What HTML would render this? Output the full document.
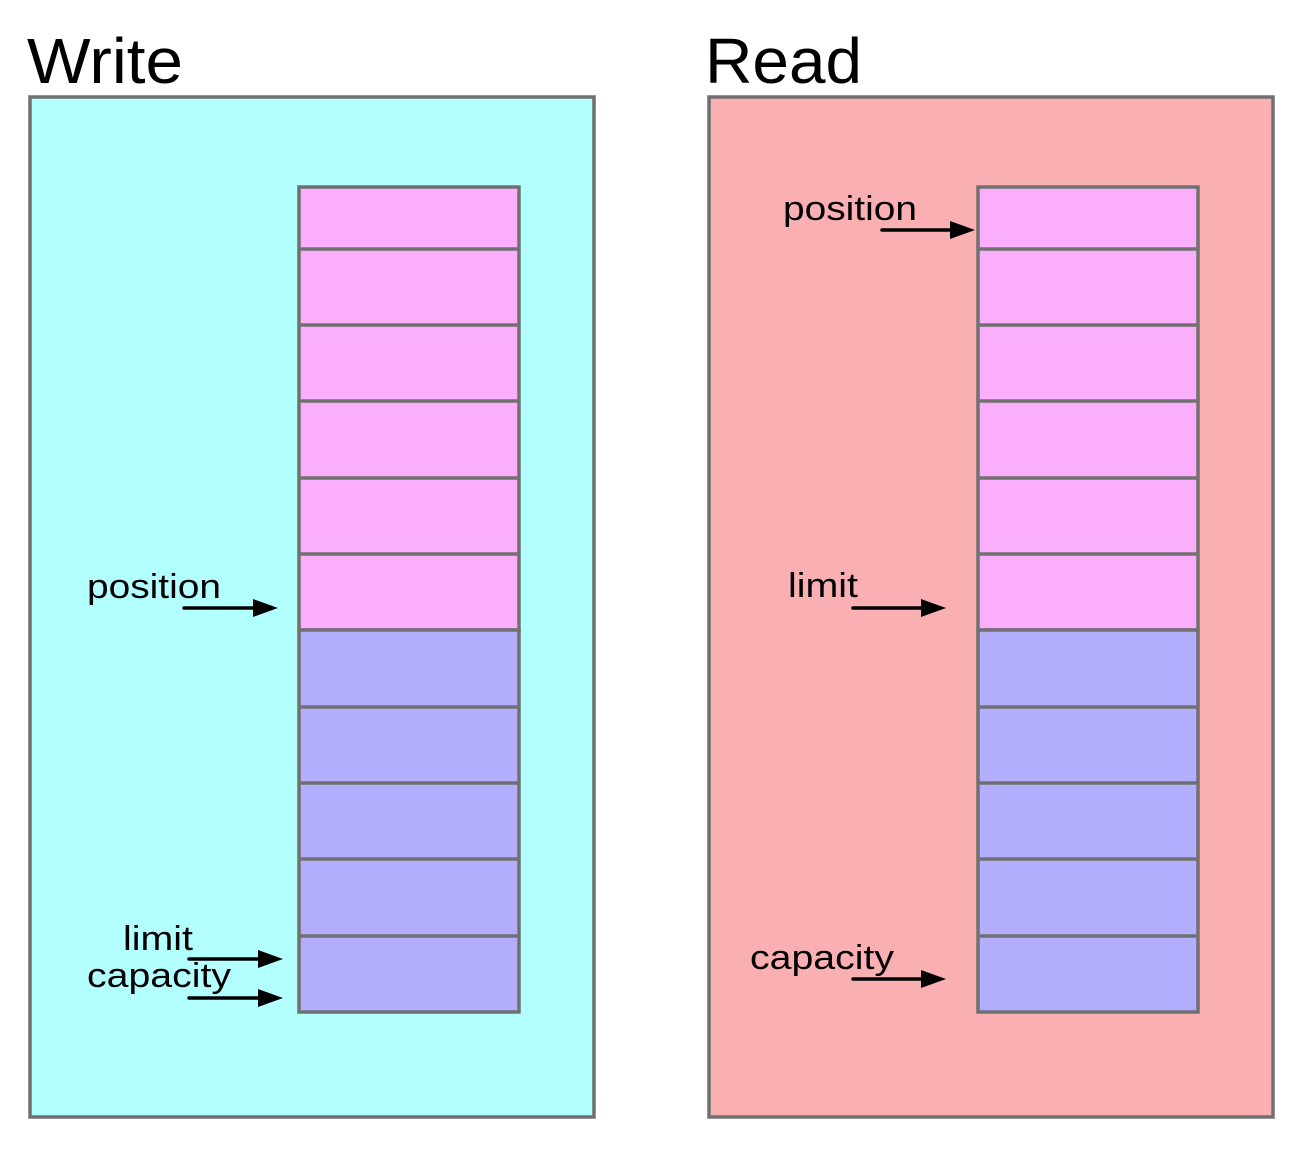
<!DOCTYPE html>
<html><head><meta charset="utf-8"><style>html,body{margin:0;padding:0;background:#fff}</style></head>
<body>
<svg width="1296" height="1144" xmlns="http://www.w3.org/2000/svg" font-family="Liberation Sans, Arial, sans-serif">
<text x="27" y="83" font-size="64" textLength="156" lengthAdjust="spacingAndGlyphs">Write</text>
<text x="705" y="83" font-size="64" textLength="157" lengthAdjust="spacingAndGlyphs">Read</text>
<rect x="30" y="97" width="564" height="1020" fill="#b3ffff" stroke="#707070" stroke-width="3.5"/>
<rect x="709" y="97" width="564" height="1020" fill="#fab0b2" stroke="#707070" stroke-width="3.5"/>
<g stroke="#707070" stroke-width="3.5">
<rect x="299" y="187" width="220" height="443" fill="#fbaefc"/>
<rect x="299" y="630" width="220" height="382" fill="#b3aefe"/>
<rect x="978" y="187" width="220" height="443" fill="#fbaefc"/>
<rect x="978" y="630" width="220" height="382" fill="#b3aefe"/>
<path d="M299 249H519M299 325H519M299 401H519M299 478H519M299 554H519M299 707H519M299 783H519M299 859H519M299 936H519
M978 249H1198M978 325H1198M978 401H1198M978 478H1198M978 554H1198M978 707H1198M978 783H1198M978 859H1198M978 936H1198"/>
</g>
<g font-size="34">
<text x="87" y="598" textLength="134" lengthAdjust="spacingAndGlyphs">position</text>
<text x="123" y="950" textLength="70" lengthAdjust="spacingAndGlyphs">limit</text>
<text x="87" y="987" textLength="144" lengthAdjust="spacingAndGlyphs">capacity</text>
<text x="783" y="220" textLength="134" lengthAdjust="spacingAndGlyphs">position</text>
<text x="788" y="597" textLength="70" lengthAdjust="spacingAndGlyphs">limit</text>
<text x="750" y="969" textLength="144" lengthAdjust="spacingAndGlyphs">capacity</text>
</g>
<g stroke="#000" stroke-width="3.5" stroke-linecap="round">
<line x1="184" y1="608" x2="256" y2="608"/>
<line x1="189" y1="959" x2="260" y2="959"/>
<line x1="189" y1="998" x2="260" y2="998"/>
<line x1="882" y1="230" x2="952" y2="230"/>
<line x1="853" y1="608" x2="923" y2="608"/>
<line x1="853" y1="979" x2="923" y2="979"/>
</g>
<g fill="#000">
<polygon points="253,599 278,608 253,617"/>
<polygon points="258,950 283,959 258,968"/>
<polygon points="258,989 283,998 258,1007"/>
<polygon points="950,221 975,230 950,239"/>
<polygon points="921,599 946,608 921,617"/>
<polygon points="921,970 946,979 921,988"/>
</g>
</svg>
</body></html>
